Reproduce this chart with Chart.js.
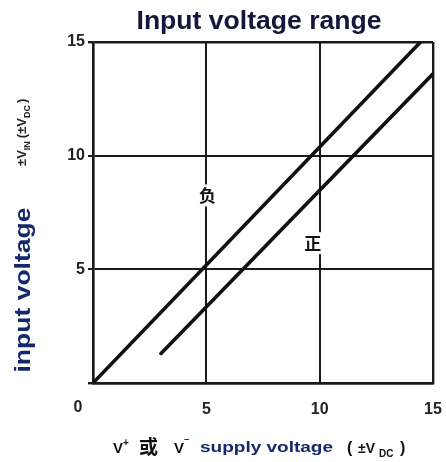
<!DOCTYPE html>
<html>
<head>
<meta charset="utf-8">
<script src="https://cdn.jsdelivr.net/npm/chart.js@4.4.1/dist/chart.umd.min.js"></script>
<style>
  html, body { margin: 0; padding: 0; background: #fff; }
  #wrap { width: 446px; height: 462px; }
</style>
</head>
<body>
<div id="wrap"><canvas id="chart" width="446" height="462"></canvas></div>
<script>
// data
const negX = [0, 14.45];
const negY = [0, 15];
const posX = [3, 15];
const posY = [1.3, 13.6];
const curveLabels = ["负", "正"];
const labelX = [5.05, 9.7];
const labelY = [8.25, 6.15];
const tickValues = [0, 5, 10, 15];

const titleText = "Input voltage range";
const yTitle = "input voltage";
const navy = "#14286e";

function toPoints(xs, ys) {
    return xs.map((x, i) => ({ x: x, y: ys[i] }));
}

// draw text squeezed/stretched to a given width
function fitText(ctx, text, cx, cy, width) {
    const w = ctx.measureText(text).width;
    ctx.save();
    ctx.translate(cx, cy);
    ctx.scale(width / w, 1);
    ctx.textAlign = "center";
    ctx.textBaseline = "middle";
    ctx.fillText(text, 0, 0);
    ctx.restore();
}

const textPlugin = {
    id: "texts",
    afterDatasetsDraw(chart) {
        const ctx = chart.ctx;
        const xs = chart.scales.x;
        const ys = chart.scales.y;

        // curve labels with white box over grid
        ctx.save();
        ctx.font = 'bold 17px "Noto Sans CJK SC"';
        ctx.textAlign = "center";
        ctx.textBaseline = "middle";
        curveLabels.forEach((t, i) => {
            const px = xs.getPixelForValue(labelX[i]);
            const py = ys.getPixelForValue(labelY[i]);
            ctx.fillStyle = "#fff";
            ctx.fillRect(px - 10, py - 11, 20, 22);
            ctx.fillStyle = "#111";
            ctx.fillText(t, px, py);
        });
        ctx.restore();
    },
    afterDraw(chart) {
        const ctx = chart.ctx;
        const xs = chart.scales.x;
        const ys = chart.scales.y;
        ctx.save();

        // title
        ctx.fillStyle = "#16163a";
        ctx.font = 'bold 25px "Liberation Sans"';
        fitText(ctx, titleText, 259, 22, 245);

        // shared "0" at the corner
        ctx.fillStyle = "#222";
        ctx.font = 'bold 16px "Liberation Sans"';
        ctx.textAlign = "center";
        ctx.textBaseline = "middle";
        ctx.fillText("0", xs.getPixelForValue(0) - 15, ys.bottom + 25);

        // y titles (rotated)
        ctx.save();
        ctx.translate(24, 290);
        ctx.rotate(-Math.PI / 2);
        ctx.fillStyle = navy;
        ctx.font = 'bold 22px "Liberation Sans"';
        fitText(ctx, yTitle, 0, 0, 165);
        ctx.restore();

        ctx.save();
        ctx.translate(22, 106);
        ctx.rotate(-Math.PI / 2);
        ctx.fillStyle = "#222";
        ctx.textBaseline = "alphabetic";
        ctx.textAlign = "left";
        let x = -60;
        ctx.font = 'bold 13px "Liberation Sans"';
        ctx.fillText("±V", x, 4); x += ctx.measureText("±V").width;
        ctx.font = 'bold 9px "Liberation Sans"';
        ctx.fillText("IN", x, 8); x += ctx.measureText("IN").width + 3;
        ctx.font = 'bold 13px "Liberation Sans"';
        ctx.fillText("(±V", x, 4); x += ctx.measureText("(±V").width;
        ctx.font = 'bold 9px "Liberation Sans"';
        ctx.fillText("DC", x, 8); x += ctx.measureText("DC").width + 2;
        ctx.font = 'bold 13px "Liberation Sans"';
        ctx.fillText(")", x, 4);
        ctx.restore();

        // x title pieces
        const base = 453;
        ctx.textAlign = "left";
        ctx.textBaseline = "alphabetic";
        ctx.fillStyle = "#111";
        ctx.font = 'bold 15px "Liberation Sans"';
        ctx.fillText("V", 113, base);
        ctx.font = 'bold 10px "Liberation Sans"';
        ctx.fillText("+", 123, base - 7);
        ctx.font = 'bold 19px "Noto Sans CJK SC"';
        ctx.fillText("或", 139, base + 1);
        ctx.font = 'bold 15px "Liberation Sans"';
        ctx.fillText("V", 174, base);
        ctx.font = 'bold 10px "Liberation Sans"';
        ctx.fillText("‾", 185, base - 5);

        ctx.fillStyle = navy;
        ctx.font = 'bold 15px "Liberation Sans"';
        fitText(ctx, "supply voltage", 266.5, base - 5, 133);

        ctx.fillStyle = "#111";
        ctx.textAlign = "left";
        ctx.textBaseline = "alphabetic";
        ctx.font = 'bold 16px "Liberation Sans"';
        ctx.fillText("(", 347, base);
        ctx.font = 'bold 14px "Liberation Sans"';
        ctx.fillText("±V", 358, base);
        ctx.font = 'bold 10px "Liberation Sans"';
        ctx.fillText("DC", 379, base + 4);
        ctx.font = 'bold 16px "Liberation Sans"';
        ctx.fillText(")", 400, base);

        ctx.restore();
    },
};

const edgeWidth = (c) => (c.tick && (c.tick.value === 15 || c.tick.value === 0) ? 2.4 : 2);

new Chart(document.getElementById("chart"), {
    type: "line",
    data: {
        datasets: [
            {
                label: "负",
                data: toPoints(negX, negY),
                borderColor: "#111",
                borderWidth: 3.6,
                borderCapStyle: "round",
                pointRadius: 0,
                fill: false,
            },
            {
                label: "正",
                data: toPoints(posX, posY),
                borderColor: "#111",
                borderWidth: 3.6,
                borderCapStyle: "round",
                pointRadius: 0,
                fill: false,
            },
        ],
    },
    plugins: [textPlugin],
    options: {
        responsive: false,
        animation: false,
        layout: { padding: { left: 0, right: 13, top: 42, bottom: 0 } },
        plugins: {
            legend: { display: false },
            tooltip: { enabled: false },
            title: { display: false },
        },
        scales: {
            x: {
                type: "linear",
                min: 0,
                max: 15,
                afterFit: (s) => {
                    s.height = 79;
                    s.paddingLeft = 0;
                    s.paddingRight = 0;
                },
                afterBuildTicks: (s) => { s.ticks = tickValues.map((v) => ({ value: v })); },
                grid: { color: "#1a1a1a", lineWidth: edgeWidth, drawTicks: false },
                border: { display: true, color: "#1a1a1a", width: 2.4 },
                ticks: {
                    padding: 17,
                    color: "#222",
                    font: { family: "Liberation Sans", size: 16, weight: "bold" },
                    callback: (v) => (v === 0 ? "" : String(v)),
                },
            },
            y: {
                type: "linear",
                min: 0,
                max: 15,
                afterFit: (s) => {
                    s.width = 93;
                    s.paddingTop = 0;
                    s.paddingBottom = 0;
                },
                afterBuildTicks: (s) => { s.ticks = tickValues.map((v) => ({ value: v })); },
                grid: { color: "#1a1a1a", lineWidth: edgeWidth, tickLength: 5 },
                border: { display: true, color: "#1a1a1a", width: 2.4 },
                ticks: {
                    padding: 3,
                    color: "#222",
                    font: { family: "Liberation Sans", size: 16, weight: "bold" },
                    callback: (v) => (v === 0 ? "" : String(v)),
                },
            },
        },
    },
});
</script>
</body>
</html>
